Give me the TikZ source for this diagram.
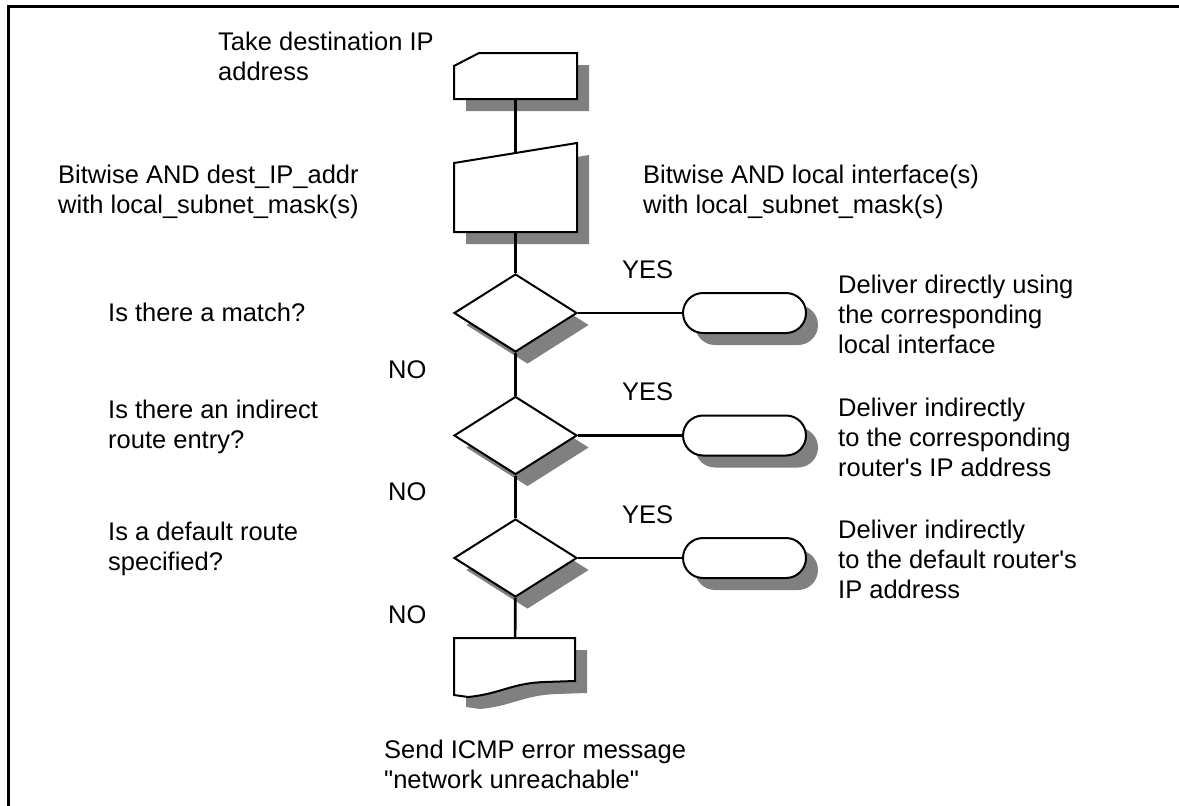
\documentclass[tikz,border=0pt]{standalone}
\usepackage{fontspec}
\setmainfont{Liberation Sans}[Ligatures=TeXOff]
\usetikzlibrary{shapes.geometric,shapes.misc,shadows}
\definecolor{shadowgray}{HTML}{808080}

\tikzset{
    dropgray/.style={drop shadow={shadow xshift=12pt,shadow yshift=-12pt,fill=shadowgray,opacity=1}},
    holder/.style={inner sep=0pt,minimum width=123pt},
    outline/.style={draw,line width=2pt,fill=white,line join=miter},
    decision/.style={diamond,draw,line width=2pt,fill=white,inner sep=0pt,aspect=1.58,
        minimum width=123pt,minimum height=78pt,dropgray},
    terminal/.style={rounded rectangle,draw,line width=2pt,fill=white,inner sep=0pt,
        minimum width=123pt,minimum height=40pt,dropgray},
    vlink/.style={line width=2.7pt},
    hlink/.style={line width=2.2pt},
    % base of a multi-line node is its last line
    txt/.style={font=\fontsize{25.5}{30}\selectfont,align=left,inner sep=0pt,anchor=base west},
}

\begin{document}
\begin{tikzpicture}[x=1pt,y=-1pt]
    \useasboundingbox (0,0) rectangle (1179,806);
    \draw[line width=3pt] (8,806) -- (8,6) -- (1179,6);

    % placeholders for the hand drawn boxes
    \node[holder,minimum height=46pt] (take) at (515.5,76) {};
    \node[holder,minimum height=79pt] (andmask) at (515.5,192.5) {};
    \node[holder,minimum height=43pt] (icmp) at (515,659.5) {};

    % input card
    \fill[shadowgray,shift={(12,12)}] (454,99) -- (454,66) -- (479,53) -- (577,53) -- (577,99) -- cycle;
    \draw[outline] (454,99) -- (454,66) -- (479,53) -- (577,53) -- (577,99) -- cycle;
    % manual operation
    \fill[shadowgray,shift={(12,12)}] (454,232) -- (454,163) -- (577,143) -- (577,232) -- cycle;
    \draw[outline] (454,232) -- (454,163) -- (577,143) -- (577,232) -- cycle;
    % document
    \fill[shadowgray,shift={(12,12)}] (575,638) -- (454,638) -- (454,695) -- (468,697)
        .. controls (500,694) and (512,683) .. (545,682) -- (575,681) -- cycle;
    \draw[outline] (575,638) -- (454,638) -- (454,695) -- (468,697)
        .. controls (500,694) and (512,683) .. (545,682) -- (575,681) -- cycle;

    \foreach \i/\yc in {1/313,2/435.5,3/558} {
        \node[decision] (test\i) at (515.5,\yc) {};
        \node[terminal] (deliver\i) at (744.5,\yc) {};
        \draw[hlink] (test\i) -- (deliver\i);
        \node[txt] (yes\i) at (622,\yc-35) {YES};
        \node[txt] (no\i) at (388,\yc+65) {NO};
    }

    \draw[vlink] (take) -- (andmask);
    \draw[vlink] (andmask) -- (test1);
    \draw[vlink] (test1) -- (test2);
    \draw[vlink] (test2) -- (test3);
    \draw[vlink] (test3) -- (icmp);

    % texts
    \node[txt] (taketxt) at (218,80) {Take destination IP\\address};
    \node[txt] (andtxt) at (58,213) {Bitwise AND dest\_IP\_addr\\with local\_subnet\_mask(s)};
    \node[txt] (localtxt) at (643,213) {Bitwise AND local interface(s)\\with local\_subnet\_mask(s)};
    \node[txt] (q1txt) at (108,321) {Is there a match?};
    \node[txt] (q2txt) at (108,448) {Is there an indirect\\route entry?};
    \node[txt] (q3txt) at (108,570) {Is a default route\\specified?};
    \node[txt] (d1txt) at (838,353) {Deliver directly using\\the corresponding\\local interface};
    \node[txt] (d2txt) at (838,476) {Deliver indirectly\\to the corresponding\\router's IP address};
    \node[txt] (d3txt) at (838,598) {Deliver indirectly\\to the default router's\\IP address};
    \node[txt] (icmptxt) at (384,788) {Send ICMP error message\\"network unreachable"};
\end{tikzpicture}
\end{document}
